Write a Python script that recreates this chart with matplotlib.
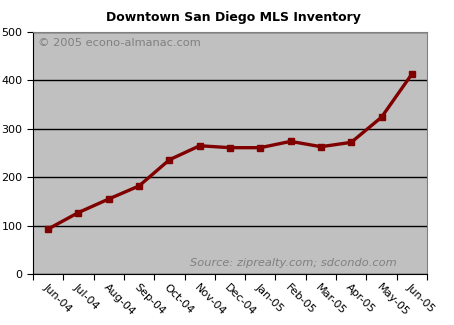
import matplotlib
matplotlib.use("Agg")
import matplotlib.pyplot as plt
import numpy as np

months = ["Jun-04", "Jul-04", "Aug-04", "Sep-04", "Oct-04", "Nov-04", "Dec-04",
          "Jan-05", "Feb-05", "Mar-05", "Apr-05", "May-05", "Jun-05"]
inventory = [93, 127, 155, 182, 236, 265, 261, 261, 274, 263, 272, 324, 413]

plt.rcParams.update({"font.family": "DejaVu Sans", "font.size": 8})

fig = plt.figure(figsize=(4.54, 3.25), dpi=100)
ax = fig.add_axes([33 / 454, 51 / 325, 394 / 454, 242 / 325])
ax.set_facecolor("#c0c0c0")

x = np.arange(len(months)) + 0.5
ax.plot(x, inventory, color="#800000", lw=2.4, marker="s", ms=5,
        markeredgecolor="#800000", zorder=3)

ax.set_xlim(0, len(months))
ax.set_ylim(0, 500)
ax.set_yticks(range(0, 501, 100))
ax.grid(axis="y", color="black", lw=1)
ax.set_axisbelow(True)

# category boundaries carry the tick marks, labels sit at the centres
ax.set_xticks(np.arange(len(months) + 1))
ax.set_xticklabels([])
ax.set_xticks(x, minor=True)
ax.set_xticklabels(months, minor=True, rotation=-45, ha="left", va="top",
                   rotation_mode="anchor", fontsize=8)
ax.tick_params(axis="x", which="minor", length=0, pad=6)
ax.tick_params(axis="both", which="major", direction="out", length=4,
               color="black", labelsize=8)

for side in ("top", "right"):
    ax.spines[side].set_color("#808080")
for side in ("left", "bottom"):
    ax.spines[side].set_color("black")

ax.text(0.012, 0.975, "© 2005 econo-almanac.com", transform=ax.transAxes,
        ha="left", va="top", color="#808080", fontsize=8.2)
ax.text(0.924, 0.025, "Source: ziprealty.com; sdcondo.com", transform=ax.transAxes,
        ha="right", va="bottom", color="#808080", fontsize=8.2, style="italic")

fig.suptitle("Downtown San Diego MLS Inventory", x=233 / 454, y=1 - 11 / 325,
             va="top", fontsize=9, fontweight="bold")

fig.savefig("out.png", dpi=100, facecolor="white")
